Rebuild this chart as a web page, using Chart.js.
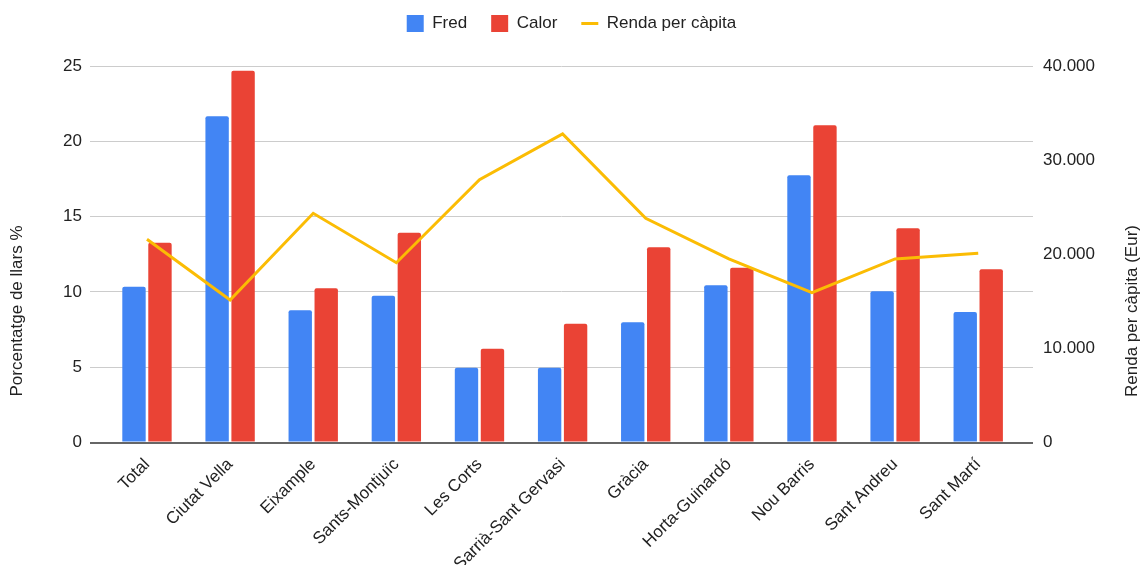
<!DOCTYPE html>
<html>
<head>
<meta charset="utf-8">
<script src="https://cdn.jsdelivr.net/npm/chart.js@4.4.1/dist/chart.umd.min.js"></script>
<style>
  html, body { margin: 0; padding: 0; background: #fff; }
  #wrap { width: 1143px; height: 565px; }
</style>
</head>
<body>
<div id="wrap"><canvas id="grafic"></canvas></div>
<script>
// districtes de Barcelona
const districtes = ['Total', 'Ciutat Vella', 'Eixample', 'Sants-Montjuïc', 'Les Corts',
  'Sarrià-Sant Gervasi', 'Gràcia', 'Horta-Guinardó', 'Nou Barris', 'Sant Andreu', 'Sant Martí'];

// percentatge de llars (%)
const fred  = [10.35, 21.66, 8.78, 9.75, 4.97, 4.97, 7.98, 10.44, 17.74, 10.04, 8.67];
const calor = [13.27, 24.69, 10.24, 13.93, 6.23, 7.89, 12.96, 11.61, 21.06, 14.22, 11.50];

// renda per càpita (Eur)
const renda = [21590, 15140, 24350, 19100, 27920, 32780, 23820, 19500, 15920, 19500, 20100];

const ordreLlegenda = ['Fred', 'Calor', 'Renda per càpita'];
const titolEsq = 'Porcentatge de llars %';
const titolDre = 'Renda per càpita (Eur)';

const FONT = '"Liberation Sans", Arial, sans-serif';
const TEXT = '#222';

Chart.defaults.font.family = FONT;
Chart.defaults.font.size = 17;
Chart.defaults.color = TEXT;

const punts = arr => arr.map((v, i) => ({ x: i, y: v }));
const milers = v => String(v).replace(/\B(?=(\d{3})+(?!\d))/g, '.');

// alçada fixa de la llegenda, i la fila una mica més amunt
const alcadaLlegenda = {
  id: 'alcadaLlegenda',
  beforeInit(chart) {
    const legend = chart.legend;
    const fit = legend.fit;
    const draw = legend.draw;
    legend.fit = function () {
      fit.call(this);
      this.height = 66;
    };
    legend.draw = function () {
      this.ctx.save();
      this.ctx.translate(0, -9);
      draw.call(this);
      this.ctx.restore();
    };
  }
};

// títols dels eixos (tots dos llegits de baix a dalt)
const titolsEixos = {
  id: 'titolsEixos',
  afterDraw(chart) {
    const ctx = chart.ctx;
    const yMig = 311;
    ctx.save();
    ctx.font = '17px ' + FONT;
    ctx.fillStyle = TEXT;
    ctx.textAlign = 'center';
    ctx.textBaseline = 'middle';
    [[17, titolEsq], [chart.width - 11, titolDre]].forEach(([x, txt]) => {
      ctx.save();
      ctx.translate(x, yMig);
      ctx.rotate(-Math.PI / 2);
      ctx.fillText(txt, 0, 0);
      ctx.restore();
    });
    ctx.restore();
  }
};

new Chart(document.getElementById('grafic'), {
  type: 'bar',
  data: {
    datasets: [
      {
        type: 'line',
        label: 'Renda per càpita',
        data: punts(renda),
        yAxisID: 'y1',
        borderColor: '#FBBC04',
        backgroundColor: '#FBBC04',
        borderWidth: 3,
        pointRadius: 0,
        pointStyle: 'line',
        tension: 0,
        order: 0
      },
      {
        label: 'Fred',
        data: punts(fred),
        backgroundColor: '#4285F4',
        borderRadius: 2,
        pointStyle: 'rect',
        order: 1
      },
      {
        label: 'Calor',
        data: punts(calor),
        backgroundColor: '#EA4335',
        borderRadius: 2,
        pointStyle: 'rect',
        order: 1
      }
    ]
  },
  options: {
    responsive: true,
    maintainAspectRatio: false,
    animation: false,
    categoryPercentage: 0.625,
    barPercentage: 0.9,
    layout: { padding: 0 },
    plugins: {
      legend: {
        position: 'top',
        labels: {
          usePointStyle: true,
          pointStyleWidth: 17,
          boxHeight: 17,
          padding: 24,
          color: TEXT,
          sort: (a, b) => ordreLlegenda.indexOf(a.text) - ordreLlegenda.indexOf(b.text)
        }
      },
      tooltip: { enabled: false }
    },
    scales: {
      x: {
        type: 'linear',
        min: -0.6855,
        max: 10.659,
        offset: false,
        grid: { display: false, offset: false },
        border: { display: false },
        afterBuildTicks: s => { s.ticks = districtes.map((_, i) => ({ value: i })); },
        afterFit: s => { s.height = 122.5; },
        ticks: {
          autoSkip: false,
          minRotation: 45,
          maxRotation: 45,
          padding: 4,
          callback: v => districtes[v]
        }
      },
      y: {
        position: 'left',
        min: 0,
        max: 25,
        afterFit: s => { s.width = 90; },
        ticks: { stepSize: 5, padding: 8 },
        border: { display: false },
        grid: {
          drawTicks: false,
          color: c => c.tick.value === 0 ? '#666' : '#ccc',
          lineWidth: c => c.tick.value === 0 ? 2 : 1
        }
      },
      y1: {
        position: 'right',
        min: 0,
        max: 40000,
        afterFit: s => { s.width = 110; },
        ticks: { stepSize: 10000, padding: 10, callback: v => milers(v) },
        border: { display: false },
        grid: { drawOnChartArea: false, drawTicks: false }
      }
    }
  },
  plugins: [alcadaLlegenda, titolsEixos]
});
</script>
</body>
</html>
